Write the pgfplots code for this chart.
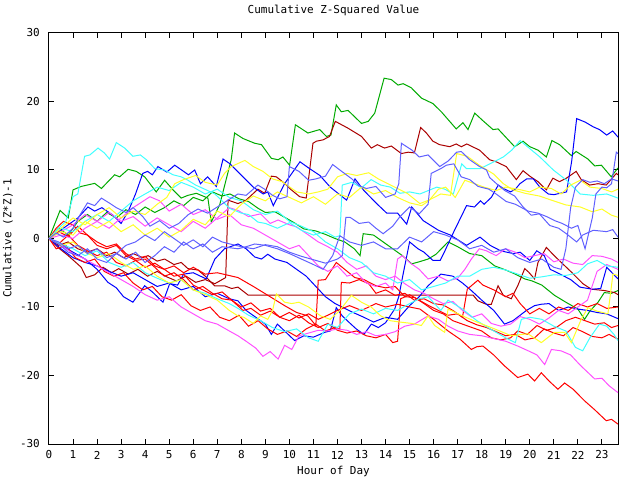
\documentclass[border=0pt]{standalone}
\usepackage{fontspec}
\setmainfont{DejaVu Sans Mono}
\usepackage{pgfplots}
\pgfplotsset{compat=1.18}
\definecolor{gpred}{RGB}{255,0,0}
\definecolor{gpgreen}{RGB}{0,170,0}
\definecolor{gpblue}{RGB}{0,0,255}
\definecolor{gpmag}{RGB}{255,80,255}
\definecolor{gpcyan}{RGB}{64,255,255}
\definecolor{gpdred}{RGB}{170,0,0}
\definecolor{gpyel}{RGB}{255,255,40}
\definecolor{gpslate}{RGB}{96,96,255}
\begin{document}
\begin{tikzpicture}
\begin{axis}[
  at={(0,0)}, anchor=south west,
  scale only axis, width=569bp, height=411bp,
  xmin=0, xmax=23.67, ymin=-30, ymax=30,
  xtick={0,1,2,3,4,5,6,7,8,9,10,11,12,13,14,15,16,17,18,19,20,21,22,23},
  xticklabels={0,1,2,3,4,5,6,7,8,9,10,11,12,13,14,15,16,17,18,19,20,21,22,23},
  ytick={-30,-20,-10,0,10,20,30},
  yticklabels={-30,-20,-10,0,10,20,30},
  tick align=inside, major tick length=5bp,
  tick style={black, line width=1bp},
  axis line style={black, line width=1bp},
  font=\fontsize{11}{13}\selectfont,
  xticklabel style={anchor=center, inner sep=0pt, yshift=-11bp},
  yticklabel style={anchor=east, inner sep=0pt, xshift=-9bp},
  title={Cumulative Z-Squared Value},
  title style={at={(axis description cs:0.5,1.041)}, anchor=center, inner sep=0pt},
  xlabel={Hour of Day},
  xlabel style={at={(axis description cs:0.5,-0.068)}, anchor=center, inner sep=0pt},
  ylabel={Cumulative (Z*Z)-1},
  ylabel style={at={(axis description cs:-0.072,0.5)}, anchor=center, inner sep=0pt},
  every axis plot/.append style={line width=1bp, line join=miter, no markers},
]
% green A
\addplot[gpgreen] coordinates {(0,0)(0.46,4.1)(0.8,3.0)(1.0,7.1)(1.34,7.6)(1.9,8.05)(2.18,7.3)(2.73,9.3)(2.94,9.0)(3.29,10.1)(3.63,9.8)(3.98,9.0)(4.46,6.8)(4.81,8.5)(5.16,7.1)(5.5,5.9)(5.78,6.3)(6.13,6.6)(6.61,5.9)(6.75,2.4)(7.1,4.9)(7.58,11.5)(7.72,15.4)(8.07,14.6)(8.56,13.9)(8.84,13.7)(9.25,11.7)(9.53,11.5)(9.73,11.9)(10.01,10.7)(10.25,16.6)(10.77,15.4)(11.26,15.9)(11.54,14.9)(11.73,15.1)(11.95,19.5)(12.16,18.5)(12.44,18.7)(13.0,16.8)(13.28,17.1)(13.55,18.3)(13.94,23.4)(14.24,23.2)(14.52,22.4)(14.73,22.6)(15.07,22.0)(15.49,20.5)(15.97,19.7)(16.32,18.5)(16.94,16.0)(17.22,16.9)(17.43,15.9)(17.71,18.3)(18.05,17.2)(18.47,15.9)(18.68,16.0)(19.37,13.4)(19.72,14.2)(20.0,13.4)(20.34,12.9)(20.69,11.9)(20.92,14.3)(21.24,13.7)(21.73,12.1)(21.93,12.7)(22.42,11.6)(22.7,10.6)(22.98,10.7)(23.39,9.0)(23.6,10.0)(23.67,10.3)};
% green G2
\addplot[gpgreen] coordinates {(0,0)(0.4,1.5)(0.8,0.5)(1.2,2.5)(1.6,3.5)(2,2.5)(2.4,3.8)(2.8,3)(3.2,4.2)(3.6,3.5)(4,4.6)(4.4,3.8)(4.8,4.5)(5.2,5.5)(5.6,4.8)(6,6)(6.4,5.5)(6.8,6.8)(7.2,6.2)(7.53,6.5)(7.9,5.8)(8.3,5.4)(8.7,4.4)(9,3.8)(9.4,3.9)(9.8,3.1)(10.2,2.3)(10.6,1.4)(11.1,1.1)(11.5,0.6)(11.9,0)(12.3,-0.5)(12.7,-1.5)(12.94,-2.5)(13.07,0.7)(13.5,0.5)(13.9,-0.5)(14.3,-1.5)(14.7,-2.5)(15.09,-3.7)(15.4,-3.4)(15.77,-3.0)(16.1,-2.3)(16.6,-0.5)(17.0,-1.2)(17.5,-2.2)(18.0,-2.5)(18.54,-4.0)(19.0,-4.6)(19.4,-5.2)(19.79,-5.9)(20.1,-6.2)(20.5,-6.8)(21.03,-8.3)(21.5,-9.3)(22.0,-10.3)(22.28,-11.8)(22.5,-10.6)(22.84,-9.3)(23.1,-7.9)(23.4,-8.0)(23.67,-7.6)};
% dark red B
\addplot[gpdred] coordinates {(0,0)(0.37,-1.3)(0.8,-2.5)(1.34,-4.2)(1.55,-5.7)(1.9,-5.3)(2.25,-4.2)(2.6,-5.0)(2.9,-4.4)(3.3,-5.2)(3.7,-4.5)(4.1,-5.5)(4.5,-4.8)(4.9,-5.6)(5.3,-6.2)(5.7,-5.5)(6.1,-6.4)(6.5,-6.0)(6.9,-6.6)(7.35,-5.7)(7.45,5.6)(7.86,5.1)(8.2,5.6)(8.69,7.2)(8.97,6.6)(9.25,9.1)(9.46,9.0)(9.8,8.05)(10.08,7.1)(10.43,6.1)(10.7,5.9)(10.98,13.9)(11.12,14.2)(11.4,14.4)(11.67,14.9)(11.91,17.1)(12.44,16.1)(13.0,14.9)(13.41,13.2)(13.66,13.7)(13.96,13.2)(14.24,13.5)(14.66,12.4)(14.94,12.6)(15.2,12.5)(15.46,16.2)(15.7,15.4)(15.97,14.2)(16.25,13.7)(16.67,13.4)(16.94,13.8)(17.15,13.4)(17.38,13.8)(17.91,12.9)(18.33,11.5)(18.6,11.2)(19.02,10.5)(19.44,8.6)(19.72,9.9)(20.0,9.1)(20.34,8.3)(20.69,7.1)(20.96,8.8)(21.24,8.3)(21.52,8.8)(21.93,9.8)(22.14,8.6)(22.49,7.8)(22.84,8.0)(23.18,7.8)(23.6,9.5)(23.67,9.3)};
% dark red H
\addplot[gpdred] coordinates {(0,0)(0.4,-1)(0.8,-0.5)(1.2,-1.5)(1.6,-2)(2,-1.5)(2.4,-2.5)(2.73,-2)(3.1,-2.8)(3.5,-2.2)(3.9,-2.8)(4.12,-2.5)(4.5,-3.3)(4.81,-3)(5.2,-3.8)(5.5,-3.5)(5.78,-4.4)(6.2,-4.6)(6.5,-5.5)(6.89,-6.9)(7.3,-6.9)(7.6,-7.3)(7.86,-7.1)(8.28,-8.25)(17.64,-8.25)(17.84,-9.1)(18.19,-9.6)(18.4,-9.6)(18.68,-6.9)(18.9,-8.3)(19.23,-8.8)(19.5,-6.9)(19.79,-4.4)(19.95,-4.9)(20.2,-5.9)(20.34,-3.5)(20.69,-1.3)(20.96,-2.3)(21.31,-3.5)(21.73,-4.9)(22.21,-6.6)(22.56,-7.4)(23.11,-7.6)(23.53,-7.9)(23.67,-8.2)};
% blue C
\addplot[gpblue] coordinates {(0,0)(0.5,-1.5)(1,-2.8)(1.5,-3.5)(2,-4)(2.5,-4.8)(3,-5.5)(3.5,-5)(4,-6)(4.5,-7)(5,-6.5)(5.5,-7.5)(6,-7)(6.5,-8.5)(7,-8)(7.5,-8.8)(7.86,-9.1)(8.2,-10.5)(8.6,-11.5)(9.0,-12.5)(9.25,-14.0)(9.5,-12.5)(9.8,-13.5)(10.22,-14.9)(10.6,-14.2)(11.0,-14.4)(11.47,-13.7)(11.7,-13.5)(11.95,-10.1)(12.2,-11.3)(12.5,-12.3)(12.78,-13.2)(13.1,-14.0)(13.41,-12.5)(13.7,-13)(14.0,-12.3)(14.38,-10.3)(14.55,-8.5)(14.72,-5.4)(15.0,-0.5)(15.35,-1.5)(15.6,-2)(15.97,-3.2)(16.27,-3.2)(16.47,-1.8)(16.8,0.7)(17.37,4.8)(17.7,4.6)(17.95,5.5)(18.1,5)(18.4,6.0)(18.69,7.8)(18.9,7.3)(19.2,6.8)(19.4,7.2)(19.59,8.0)(19.87,8.7)(20.15,8.7)(20.42,7.5)(20.77,6.5)(21.0,6.4)(21.53,6.8)(21.74,11.2)(21.95,17.5)(22.3,17.0)(22.64,16.3)(22.9,15.9)(23.2,15.1)(23.45,15.7)(23.67,14.8)};
% blue X
\addplot[gpblue] coordinates {(0,0)(0.5,-1.0)(1.0,-2.0)(1.5,-3.0)(2.0,-4.5)(2.45,-6.4)(2.8,-7.2)(3.1,-8.5)(3.49,-9.3)(3.98,-6.9)(4.3,-7.8)(4.74,-9.3)(5.02,-6.6)(5.35,-6.8)(5.6,-5.2)(6.0,-5.0)(6.54,-5.9)(6.9,-3.0)(7.3,-1.5)(7.86,-0.8)(8.2,-1.5)(8.56,-2.7)(8.84,-3.0)(9.1,-2.3)(9.4,-3.0)(9.9,-3.5)(10.3,-4.5)(10.7,-5.5)(11.1,-7.0)(11.5,-8.5)(11.9,-9.5)(12.3,-10.2)(12.65,-10.8)(13.1,-11.5)(13.5,-12.2)(14.0,-11.5)(14.5,-11.8)(15.0,-9.8)(15.4,-8.5)(15.77,-6.9)(16.3,-5.2)(16.8,-5.5)(17.2,-6.5)(17.57,-7.6)(18.0,-9.0)(18.5,-10.5)(18.95,-12.5)(19.3,-12.0)(19.86,-10.5)(20.2,-9.8)(20.48,-9.6)(20.8,-9.5)(21.2,-10.5)(21.6,-10.0)(22.0,-10.3)(22.4,-10.5)(22.8,-10.8)(23.2,-11.0)(23.67,-11.7)};
% blue Z
\addplot[gpblue] coordinates {(0,0)(0.4,1)(0.8,2)(1.2,3)(1.62,4.6)(1.9,4)(2.2,4.5)(2.66,3.4)(3.0,2.2)(3.3,4)(3.6,6.5)(3.9,9.5)(4.1,9.8)(4.3,9.3)(4.53,10.5)(4.9,9.7)(5.23,10.7)(5.6,9.8)(5.8,9.3)(6.06,10.0)(6.3,8)(6.6,9)(6.96,7.6)(7.24,11.6)(7.53,10.9)(8.07,9.0)(8.5,7.5)(8.91,6.5)(9.1,6.8)(9.33,4.8)(9.8,8)(10.44,11.2)(10.8,10.3)(11.27,9.2)(11.7,7.5)(12.38,5.6)(12.73,8.7)(13.1,7)(13.63,5.1)(14.05,3.7)(14.5,3.7)(14.88,2.1)(15.09,4.6)(15.57,2.6)(16.2,1.2)(16.7,0.5)(17.37,-1.0)(17.93,0.2)(18.35,-1)(18.79,-1.8)(19.31,-2.2)(19.6,-2)(20.0,-3.2)(20.29,-1.8)(20.6,-2.5)(20.85,-4.5)(21.26,-5.2)(21.7,-6)(22.09,-7.1)(22.6,-7.4)(22.95,-7.3)(23.2,-4.2)(23.67,-5.9)};
% red R1
\addplot[gpred] coordinates {(0,0)(0.3,1.5)(0.6,2.5)(1.0,2.0)(1.3,0.8)(1.6,0.5)(2.0,-0.5)(2.4,-1.2)(2.8,-0.8)(3.2,-2.2)(3.6,-3.0)(4.0,-2.6)(4.4,-4.0)(4.8,-4.5)(5.2,-5.5)(5.6,-5.2)(6.0,-6.8)(6.4,-7.5)(6.8,-8.2)(7.2,-7.8)(7.6,-9.0)(8.07,-10.5)(8.4,-10.2)(8.8,-11.2)(9.2,-10.6)(9.6,-11.5)(10.0,-10.8)(10.4,-11.6)(10.8,-11.0)(11.2,-11.8)(11.6,-11.2)(12.0,-10.5)(12.5,-9.8)(13.0,-10.5)(13.6,-9.5)(14.0,-10.0)(14.5,-9.6)(15.0,-10.0)(15.43,-10.3)(16.0,-11.8)(16.6,-13.5)(17.1,-14.7)(17.57,-16.2)(17.8,-15.8)(18.05,-15.7)(18.5,-17)(18.95,-18.6)(19.5,-20.3)(19.92,-19.8)(20.2,-20.8)(20.48,-19.6)(20.8,-20.8)(21.17,-22.0)(21.45,-21.1)(21.8,-22)(22.28,-23.7)(22.7,-25)(23.18,-26.6)(23.4,-26.4)(23.67,-27.1)};
% red R2
\addplot[gpred] coordinates {(0,0)(0.4,-0.8)(0.8,0.5)(1.2,-1)(1.6,-1.8)(2,-2.5)(2.4,-2)(2.8,-3.5)(3.2,-4)(3.6,-3.2)(4,-4.2)(4.4,-3.6)(4.8,-4.5)(5.2,-4)(5.6,-5)(6,-4.2)(6.5,-5.2)(7,-5)(7.86,-5.7)(8.5,-7)(9.2,-8.5)(9.8,-9.8)(10.3,-10.8)(10.77,-11.3)(11.1,-12.7)(11.2,-6.1)(11.5,-6)(11.95,-3.5)(12.3,-4.5)(12.72,-5.7)(13.1,-6)(13.6,-6.9)(14,-7.2)(14.4,-7)(14.8,-8.5)(15.2,-8.6)(15.6,-9.5)(16,-10.5)(16.4,-11)(16.8,-12)(17.2,-12.5)(17.6,-13)(18,-13.5)(18.4,-14.5)(18.8,-14.8)(19.2,-14.5)(19.5,-13.5)(19.9,-14)(20.3,-12.7)(20.7,-13.4)(21.1,-13)(21.5,-12)(21.9,-11.5)(22.3,-12)(22.7,-12.5)(23.1,-12.3)(23.4,-13)(23.67,-12.7)};
% red R3
\addplot[gpred] coordinates {(0,0)(0.3,-1.5)(0.7,-1)(1.1,-2.8)(1.5,-3.5)(1.9,-3)(2.3,-4.8)(2.7,-5.5)(3.1,-5)(3.5,-6.5)(3.9,-7.5)(4.3,-7)(4.7,-8.5)(5.1,-9)(5.5,-8.2)(5.9,-9.8)(6.3,-10.5)(6.7,-10)(7.1,-11.5)(7.5,-12)(7.9,-11.2)(8.3,-12.8)(8.7,-12)(9.1,-13.2)(9.5,-14)(9.9,-13.5)(10.3,-14.3)(10.7,-13.2)(11.1,-12.5)(11.5,-13.5)(11.9,-13)(12.1,-13.2)(12.16,-6.4)(12.5,-6.5)(12.9,-6)(13.3,-6.6)(13.6,-8)(14,-7.5)(14.4,-8.3)(14.8,-8)(15.2,-9)(15.6,-8.8)(16,-9.5)(16.4,-9.7)(16.8,-10.5)(17.2,-11.5)(17.4,-7.4)(17.84,-6.1)(18.05,-6.8)(18.5,-7.5)(19,-8.5)(19.3,-8)(19.6,-9.5)(20,-11)(20.4,-10.2)(20.8,-11)(21.2,-10)(21.6,-10.5)(22,-9.5)(22.4,-10)(22.8,-9.5)(23.2,-10.2)(23.67,-10.0)};
% red R4
\addplot[gpred] coordinates {(0,0)(0.4,1)(0.8,0.3)(1.2,1.8)(1.6,0.5)(2,-1)(2.4,-1.5)(2.8,-1)(3.2,-2.5)(3.6,-3.2)(4,-3)(4.4,-4.2)(4.8,-5.5)(5.2,-5)(5.6,-6)(6,-7.5)(6.4,-7)(6.8,-8)(7.2,-8.8)(7.6,-9)(8,-10)(8.4,-9.4)(8.8,-10.6)(9.2,-10.2)(9.6,-11.5)(10,-12)(10.4,-11.2)(10.8,-12.3)(11.2,-13)(11.6,-12.4)(12,-13.4)(12.4,-13.8)(12.8,-13.5)(13.2,-14.2)(13.6,-14.5)(14,-14)(14.3,-15.2)(14.5,-15)(14.63,-8.8)(15,-8.2)(15.4,-9)(15.8,-9.8)(16.2,-10.5)(16.6,-11.2)(17,-11)(17.4,-12)(17.8,-12.6)(18.2,-13)(18.6,-13.6)(19,-14.2)(19.4,-14)(19.8,-14.8)(20.2,-14.5)(20.6,-13.2)(21,-13.8)(21.4,-14.2)(21.8,-13)(22.2,-13.6)(22.6,-14.3)(23,-14.5)(23.3,-14)(23.67,-14.7)};
% magenta M1
\addplot[gpmag] coordinates {(0,0)(0.5,-1)(1,-2.2)(1.5,-3)(2,-4)(2.5,-5)(3,-6)(3.5,-7)(4,-8.2)(4.5,-9)(5,-8.5)(5.5,-10)(6,-11)(6.5,-12)(7,-12.5)(7.5,-13.5)(7.86,-14.2)(8.2,-15)(8.6,-16)(8.9,-17.2)(9.2,-16.5)(9.53,-17.6)(9.8,-15.6)(10.1,-16.2)(10.4,-14.2)(10.8,-13.8)(11.2,-13.4)(11.6,-13.5)(12,-13.2)(12.4,-13.4)(12.8,-14)(13.2,-13.6)(13.6,-14.2)(14,-14)(14.4,-13.6)(14.8,-12.8)(15.2,-12.5)(15.77,-11.3)(16.2,-11.8)(16.6,-12.8)(17,-13.5)(17.5,-14)(18,-14.2)(18.5,-14.6)(19,-15)(19.5,-15.7)(20,-16.5)(20.3,-17)(20.62,-18.4)(20.9,-16.2)(21.3,-16.4)(21.7,-17)(22.1,-18.5)(22.4,-19.5)(22.7,-20.5)(23,-20.4)(23.3,-21.5)(23.67,-22.5)};
% magenta M2
\addplot[gpmag] coordinates {(0,0)(0.5,0.5)(1,0)(1.5,1.5)(2,2.5)(2.5,1.5)(3,3)(3.5,4.5)(4.2,6.1)(4.6,5.5)(5,4)(5.5,5)(6,3.5)(6.5,4.2)(7,2.8)(7.5,3.5)(8,2)(8.5,1.5)(9,0.5)(9.5,-0.5)(10,-1.5)(10.4,-1)(10.8,-2.5)(11.2,-4)(11.6,-4.8)(12,-4)(12.4,-5.5)(12.8,-5)(13.2,-6.5)(13.6,-7)(14,-6.5)(14.3,-7.5)(14.5,-3)(14.7,-2.5)(15,-3.5)(15.4,-4.5)(15.77,-5.9)(16.2,-5.5)(16.6,-6.2)(17,-5.8)(17.3,-4.5)(17.57,-3.0)(17.9,-1.5)(18.2,-1.8)(18.6,-2.5)(19,-1.5)(19.4,-2)(19.8,-2.8)(20.2,-2.5)(20.6,-2.2)(21,-3.4)(21.4,-3)(21.8,-3.6)(22.2,-3.8)(22.6,-2.5)(23,-2.6)(23.4,-3)(23.67,-3.5)};
% magenta M3
\addplot[gpmag] coordinates {(0,0)(0.5,1)(1,2)(1.5,3.5)(2,2.5)(2.5,3.8)(3,2.5)(3.5,3.2)(4,1.8)(4.5,3)(5,2)(5.5,1)(6,2.5)(6.5,1.5)(7,3)(7.5,4.5)(7.86,4.1)(8.3,3.2)(8.8,3.6)(9.2,2.2)(9.53,2.7)(10,2)(10.3,1.7)(10.8,0.5)(11.2,-0.5)(11.6,-1.2)(12,-2)(12.4,-3.5)(12.8,-4.5)(13.2,-4)(13.6,-5.5)(14,-6)(14.4,-5.5)(14.8,-6.6)(15.2,-7.5)(15.6,-8)(16,-8.8)(16.4,-9.5)(16.8,-9.2)(17.2,-10.5)(17.6,-11.5)(18,-11)(18.4,-12.4)(18.8,-12.8)(19.2,-12.5)(19.6,-11.4)(20,-11.8)(20.4,-12.5)(20.8,-11.6)(21.2,-10.5)(21.6,-11)(22,-10)(22.4,-9)(22.8,-4.8)(23.2,-3.8)(23.67,-4.5)};
% cyan K1
\addplot[gpcyan] coordinates {(0,0)(0.4,1.5)(0.7,2.5)(1.0,6.1)(1.2,6.5)(1.48,12.0)(1.7,12.2)(2.04,13.2)(2.3,12.5)(2.52,11.6)(2.8,14.0)(3.15,13.2)(3.49,12.0)(3.8,12.2)(4.05,11.5)(4.4,10.2)(4.8,10)(5.16,9.3)(5.5,9)(5.78,8.5)(6.1,7.8)(6.54,7.1)(6.9,6.5)(7.17,5.6)(7.51,4.4)(8.0,3.7)(8.3,3.5)(8.69,2.4)(9.0,2.2)(9.5,1.5)(10,2.3)(10.5,1.2)(11,0.5)(11.5,1)(11.9,0.2)(12.1,0.4)(12.2,7.8)(12.6,8.2)(13,7.4)(13.4,8.6)(13.8,7.8)(14.2,7.5)(14.6,6.6)(15,6.8)(15.43,6.5)(16.13,7.5)(16.47,7.2)(16.82,6.5)(17.17,10.9)(17.37,10.2)(17.93,10.2)(18.34,10.9)(18.9,11.9)(19.25,12.9)(19.6,14.3)(19.87,13.5)(20.42,11.9)(20.98,10.0)(21.53,8.5)(22.09,6.5)(22.64,6.3)(23.2,6.5)(23.67,5.9)};
% cyan K3
\addplot[gpcyan] coordinates {(0,0)(0.5,-0.8)(1.0,-1.5)(1.5,-2.5)(2.0,-1.8)(2.5,-3.5)(3.0,-4.2)(3.5,-3.5)(4.0,-5.0)(4.5,-5.8)(5.0,-6.5)(5.5,-6.0)(6.0,-7.5)(6.5,-8.0)(7.0,-8.8)(7.5,-9.5)(7.86,-10.2)(8.3,-11.2)(8.8,-12.0)(9.3,-13.0)(9.8,-13.6)(10.3,-13.2)(10.8,-14.5)(11.2,-15.0)(11.6,-12.5)(12.0,-13.0)(12.5,-11.0)(13.0,-10.3)(13.5,-11.0)(14.0,-10.2)(14.5,-10.5)(15.0,-9.5)(15.4,-8.8)(15.77,-8.5)(16.3,-10.5)(16.6,-9.0)(17.2,-10.3)(17.8,-12.0)(18.4,-13.3)(19.0,-14.5)(19.4,-15.2)(19.65,-11.8)(20.0,-11.5)(20.5,-11.8)(21.0,-12.8)(21.5,-13.5)(21.9,-15.9)(22.2,-16.4)(22.5,-14.5)(22.9,-12.5)(23.2,-12.8)(23.5,-14.0)(23.67,-14.9)};
% cyan K4
\addplot[gpcyan] coordinates {(0,0)(0.5,1.5)(1,1)(1.5,2.5)(2,3.5)(2.5,2.5)(3,4)(3.5,5.5)(4,6.5)(4.5,7.5)(5,7)(5.5,8.2)(6,7.5)(6.5,6.5)(7,7.2)(7.5,6)(8,5.5)(8.5,4.2)(9,3.5)(9.5,4)(10,2.5)(10.5,1.8)(11,1)(11.5,-0.5)(12,-1.5)(12.5,-2.8)(13,-3.5)(13.5,-5)(14,-5.5)(14.5,-6.5)(15,-6)(15.5,-7.5)(16,-7)(16.5,-6.5)(17,-5.5)(17.5,-5.5)(18,-4.5)(18.5,-4.2)(19,-4.6)(19.5,-5.2)(20,-5.8)(20.5,-5.6)(21,-5.3)(21.5,-5.4)(22,-5)(22.4,-3.7)(22.8,-3.2)(23.2,-4)(23.67,-4.2)};
% yellow Y1
\addplot[gpyel] coordinates {(0,0)(0.5,1.5)(1,3)(1.5,2)(2,3.5)(2.5,4.5)(3,3)(3.5,4)(4,3.5)(4.5,5)(4.9,6)(5.23,8.0)(5.6,8.6)(6.1,9.2)(6.5,8.2)(7.0,7.8)(7.3,9.5)(7.58,10.5)(8.15,11.4)(8.5,10.5)(8.9,9.8)(9.3,8.7)(9.7,8.3)(10.3,6.8)(10.8,6.5)(11.2,6.8)(11.6,7.2)(12,9)(12.4,9.5)(12.8,9.2)(13.3,9.6)(13.7,8.7)(14.1,8.0)(14.5,7.3)(14.9,6.6)(15.43,5.1)(15.8,5.6)(16.3,6.5)(16.7,6.3)(16.96,12.4)(17.4,12.0)(17.9,10.7)(18.5,9.4)(18.9,8.0)(19.3,7.1)(19.8,6.6)(20.4,6.2)(20.9,5.6)(21.5,4.9)(22.1,4.6)(22.6,3.9)(23.0,4.3)(23.4,3.4)(23.67,3.1)};
% yellow Y2
\addplot[gpyel] coordinates {(0,0)(0.5,-1)(1,-0.5)(1.5,-2)(2,-2.8)(2.5,-2.2)(3,-3.5)(3.5,-4.5)(4,-4)(4.5,-5.5)(5,-6.5)(5.5,-6)(6,-7.5)(6.5,-8.2)(7,-9)(7.5,-10.5)(7.86,-11.3)(8.1,-11.5)(8.5,-12.4)(8.8,-11.3)(9.1,-11.8)(9.3,-10.5)(9.46,-8.1)(9.8,-9.3)(10.1,-9.5)(10.4,-9.3)(10.8,-10)(11.3,-11.3)(11.7,-11.8)(12.1,-10.5)(12.58,-8.3)(13,-9.3)(13.4,-10)(13.8,-11.3)(14.2,-12)(14.6,-12.2)(15.1,-12.4)(15.49,-12.7)(15.77,-11.3)(16.04,-12.7)(16.46,-13.7)(16.6,-10.3)(17.2,-11.3)(17.8,-12.2)(18.54,-13.2)(19.23,-14.2)(19.92,-13.9)(20.48,-15.2)(21.03,-13.7)(21.45,-13.7)(21.73,-15.2)(22.14,-11.8)(22.42,-10.1)(22.8,-10.6)(23.25,-11.0)(23.46,-5.2)(23.67,-5.4)};
% yellow Y3
\addplot[gpyel] coordinates {(0,0)(0.5,1)(1,0.5)(1.5,2.5)(2,1.5)(2.5,2.5)(3,1)(3.5,2)(4,0.5)(4.5,1.5)(5,0.2)(5.5,1.2)(6,2.8)(6.5,2)(7,4)(7.5,3.2)(8,5)(8.5,6.2)(9,5.5)(9.5,6.8)(10,6)(10.5,5.2)(11,6.1)(11.5,5)(12,6.5)(12.5,6)(13,7.5)(13.5,6.5)(14,7)(14.5,6)(15,5.2)(15.5,4.8)(15.8,5.5)(16.2,7.2)(16.5,7.5)(16.9,6)(17.3,8.5)(17.7,8)(18.1,7.5)(18.6,7)(19,7.5)(19.5,7.2)(20,6.8)(20.4,7.5)(20.9,7.3)(21.3,6.5)(21.7,7.8)(22.1,8.5)(22.5,7.5)(23,7.3)(23.4,6.8)(23.67,7.2)};
% slate S1
\addplot[gpslate] coordinates {(0,0)(0.3,0.8)(0.6,0.2)(1.0,1.5)(1.3,3.5)(1.6,5.2)(1.9,4.8)(2.18,5.9)(2.5,5.2)(2.8,4.5)(3.2,3.8)(3.5,4.5)(3.9,3.2)(4.2,1.8)(4.6,2.6)(5,1.5)(5.4,2.2)(5.8,3.5)(6.2,4.3)(6.6,3.7)(7,4.6)(7.4,5.5)(7.86,6.5)(8.2,6.3)(8.69,7.8)(8.97,7.2)(9.3,6.3)(9.6,5.8)(9.9,6.1)(10.0,10.5)(10.4,9.8)(10.8,8.5)(11.1,8.7)(11.5,9.1)(11.8,10.8)(12.1,10)(12.6,8.7)(12.9,7.7)(13.2,7.3)(13.6,7.6)(14.0,6.0)(14.4,6.5)(14.55,8.0)(14.66,13.9)(15.1,12.9)(15.4,11.9)(15.77,12.2)(16.25,10.5)(16.6,11.3)(16.96,12.6)(17.15,12.7)(17.5,11.5)(17.91,10.5)(18.2,10)(18.33,8.9)(18.68,7.8)(18.96,7.0)(19.37,6.2)(19.72,4.6)(20.06,3.4)(20.4,3.6)(20.83,1.9)(21.2,1.5)(21.52,0.7)(21.95,-0.5)(22.2,0.5)(22.64,1.2)(23.2,1.0)(23.45,1.3)(23.67,0.2)};
% slate S2
\addplot[gpslate] coordinates {(0,0)(0.4,-0.5)(0.8,-1.5)(1.2,-1)(1.6,-2.2)(2,-1.5)(2.4,-2.8)(2.8,-2.2)(3.2,-1)(3.6,-0.5)(4,0.5)(4.4,-0.3)(4.8,1)(5.2,0)(5.6,-1)(6,-0.2)(6.4,-1.2)(6.8,0.2)(7.2,-0.5)(7.53,-0.8)(8,-1.2)(8.5,-1.5)(9,-0.9)(9.5,-1.2)(10,-2)(10.5,-2.6)(11.1,-3.2)(11.5,-3.6)(12.0,-3.0)(12.2,-2.5)(12.35,3.1)(12.52,3.1)(12.9,2.2)(13.3,2.4)(13.6,1.5)(13.9,0.7)(14.3,1.8)(14.6,3.2)(15.0,4.6)(15.4,3.6)(15.77,5.0)(15.9,9.5)(16.3,10.2)(16.53,10.7)(16.84,10.9)(17.15,9.0)(17.5,8.6)(17.85,7.6)(18.3,7.2)(18.6,6.5)(19.02,5.4)(19.4,5.0)(19.93,4.0)(20.34,3.7)(20.7,3.2)(21.04,2.6)(21.35,2.2)(21.73,1.5)(22.0,1.9)(22.3,-1.5)(22.6,3)(22.75,6.5)(23.0,7.5)(23.2,7.4)(23.4,8.0)(23.6,12.6)(23.67,12.4)};
% slate S3
\addplot[gpslate] coordinates {(0,0)(0.4,-0.8)(0.8,-2)(1.2,-2.5)(1.6,-1.5)(2,-3)(2.4,-3.5)(2.8,-2.2)(3.2,-3)(3.6,-2)(4,-3.5)(4.4,-2.5)(4.8,-1.2)(5.2,-2)(5.6,-0.5)(6,-1.5)(6.4,-0.8)(6.8,-2)(7.2,-1.2)(7.86,-1.5)(8.2,-1.2)(8.56,-0.8)(9,-1)(9.5,-1.5)(10,-2.2)(10.5,-3)(11,-3.8)(11.4,-4.5)(11.8,-2.5)(12.1,0.4)(12.5,-0.5)(13,-1)(13.5,-0.5)(14,-1.5)(14.5,-1.5)(15,0.2)(15.5,-0.5)(16,1)(16.5,0.5)(17,-0.2)(17.5,-1.5)(18,-1)(18.5,-2)(19,-1.5)(19.5,-2.8)(20,-3.5)(20.5,-3)(21,-4.2)(21.3,-4.5)(21.5,-1.5)(21.7,4.5)(21.9,7.5)(22.2,8.6)(22.5,8.2)(22.8,8.4)(23.1,8.0)(23.4,8.7)(23.67,8.4)};
\end{axis}
\pgfresetboundingbox
\path (-49bp,-36bp) rectangle (591bp,444bp);
\end{tikzpicture}
\end{document}
